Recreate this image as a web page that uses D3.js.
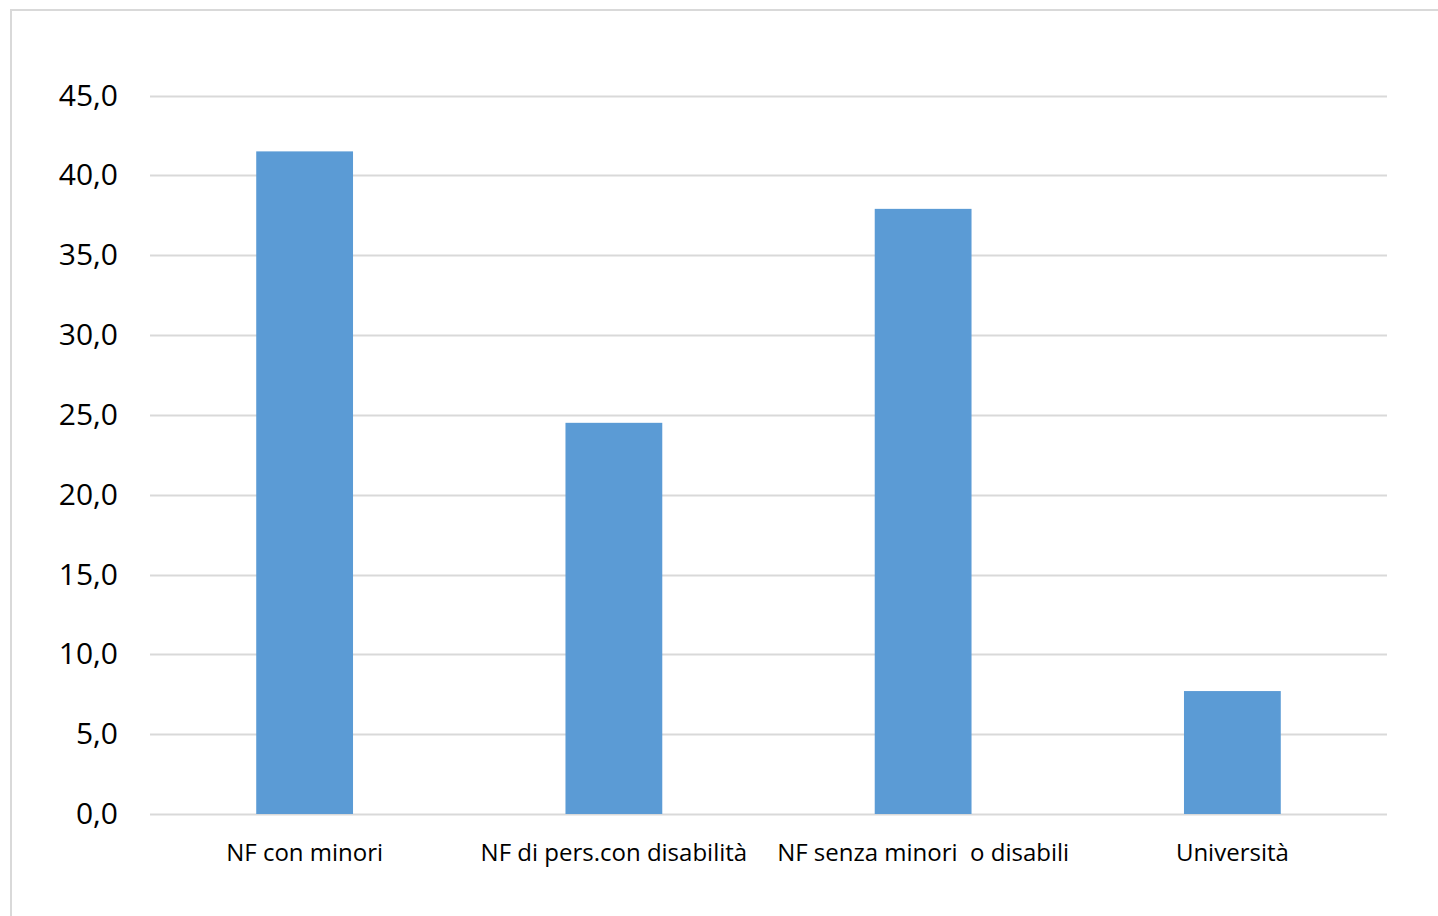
<!DOCTYPE html>
<html>
<head>
<meta charset="utf-8">
<script src="https://cdn.jsdelivr.net/npm/d3@7"></script>
<style>
  body { margin: 0; background: #fff; }
  svg { display: block; }
</style>
</head>
<body>
<svg id="chart" width="1438" height="916"></svg>
<script>
// values
const categories = ['NF con minori', 'NF di pers.con disabilità', 'NF senza minori  o disabili', 'Università']
const values = [41.5, 24.5, 37.9, 7.7]
const yTicks = [0, 5, 10, 15, 20, 25, 30, 35, 40, 45]

const svg = d3.select('#chart')

// outer chart frame
svg.append('rect')
  .attr('x', 11).attr('y', 10)
  .attr('width', 1440).attr('height', 920)
  .attr('fill', 'none')
  .attr('stroke', '#d9d9d9')
  .attr('stroke-width', 2)

const plotLeft = 150, plotRight = 1387, plotTop = 95.5, plotBottom = 814

const x = d3.scaleBand()
  .domain(categories)
  .range([plotLeft, plotRight])

const y = d3.scaleLinear()
  .domain([0, 45])
  .range([plotBottom, plotTop])

// gridlines
svg.append('g')
  .selectAll('line')
  .data(yTicks)
  .join('line')
  .attr('x1', plotLeft)
  .attr('x2', plotRight)
  .attr('y1', d => Math.round(y(d)) + 0.5)
  .attr('y2', d => Math.round(y(d)) + 0.5)
  .attr('stroke', '#d9d9d9')
  .attr('stroke-width', 2)

// bars
const barW = x.bandwidth() * 0.313
svg.append('g')
  .selectAll('rect')
  .data(values)
  .join('rect')
  .attr('x', (d, i) => x(categories[i]) + x.bandwidth() / 2 - barW / 2)
  .attr('y', d => y(d))
  .attr('width', barW)
  .attr('height', d => plotBottom - y(d))
  .attr('fill', '#5b9bd5')

// y axis labels
const yAxis = svg.append('g')
  .attr('transform', 'translate(' + plotLeft + ',0)')
  .call(d3.axisLeft(y).tickValues(yTicks).tickSize(0).tickPadding(32)
    .tickFormat(d => d3.format('.1f')(d).replace('.', ',')))
yAxis.select('.domain').remove()
yAxis.selectAll('text')
  .attr('font-family', '"Open Sans", sans-serif')
  .attr('font-size', 30)
  .attr('fill', '#000')

// x axis labels
const xAxis = svg.append('g')
  .attr('transform', 'translate(0,' + plotBottom + ')')
  .call(d3.axisBottom(x).tickSize(0).tickPadding(30))
xAxis.select('.domain').remove()
xAxis.selectAll('text')
  .attr('font-family', '"Open Sans", sans-serif')
  .attr('font-size', 24)
  .attr('fill', '#000')
  .style('white-space', 'pre')
</script>
</body>
</html>
